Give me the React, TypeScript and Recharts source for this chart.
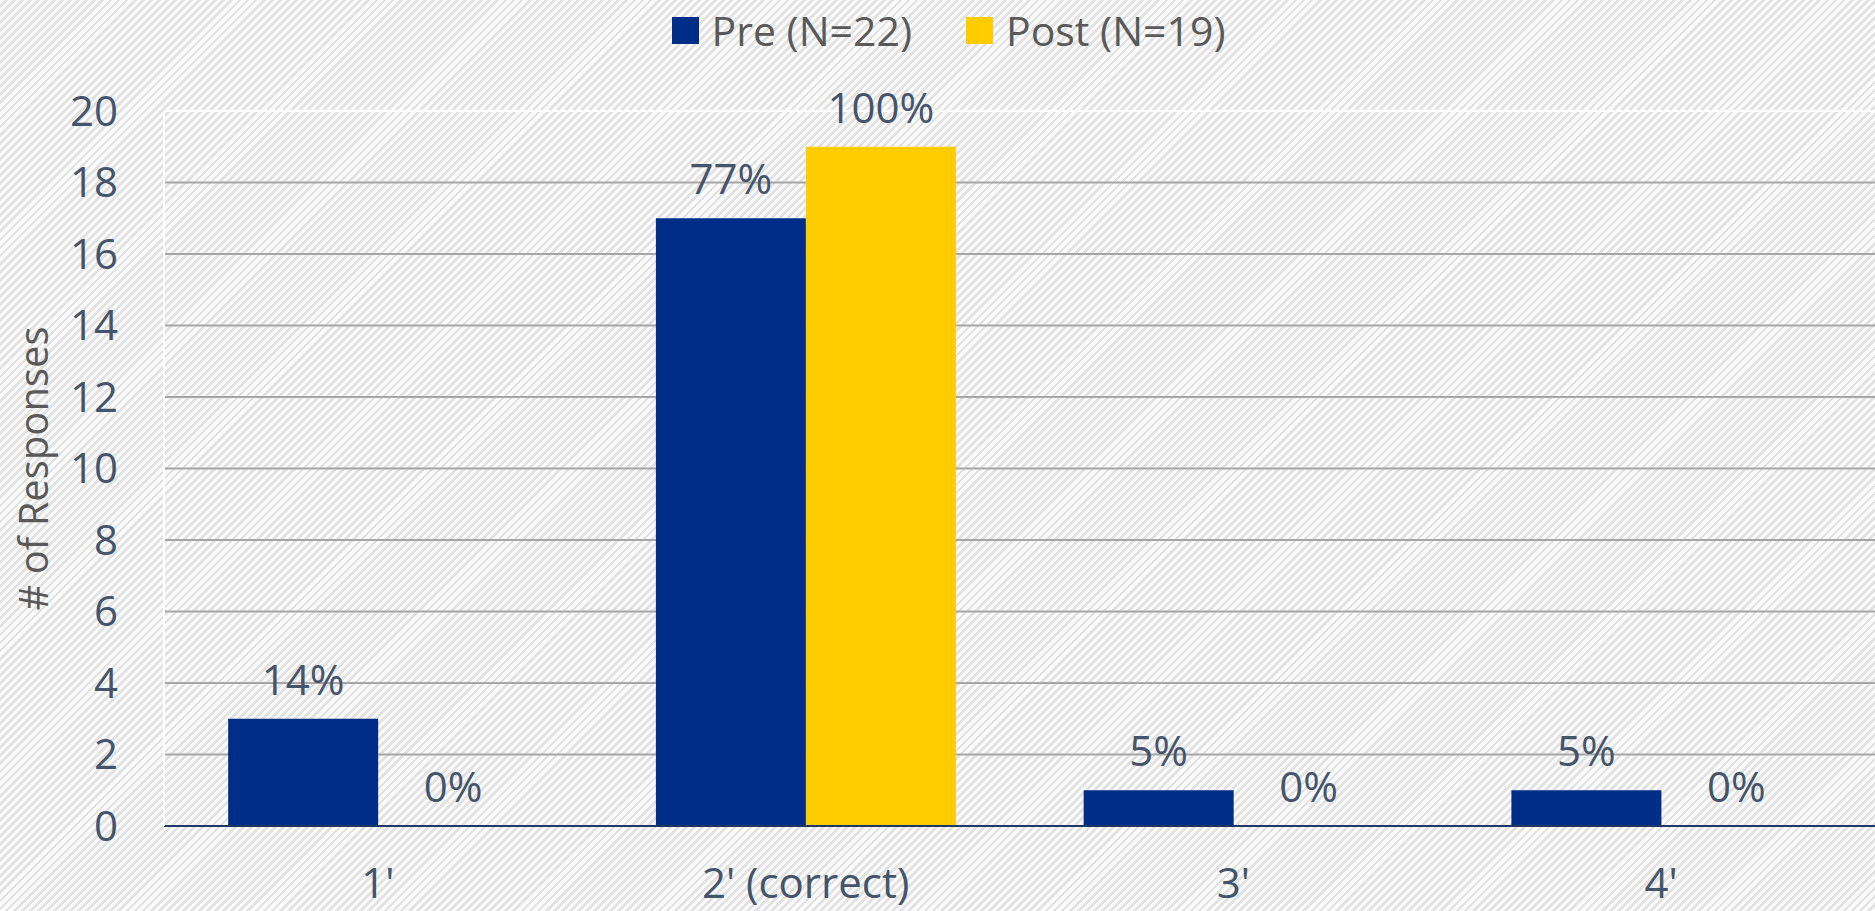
import { BarChart, Bar, XAxis, YAxis, CartesianGrid, Legend, LabelList, ReferenceLine } from 'recharts';

const categories = ["1'", "2' (correct)", "3'", "4'"];
const preCounts = [3, 17, 1, 1];
const postCounts = [0, 19, 0, 0];
const preLabels = ['14%', '77%', '5%', '5%'];
const postLabels = ['0%', '100%', '0%', '0%'];
const yTicks = [0, 2, 4, 6, 8, 10, 12, 14, 16, 18, 20];
const seriesNames = ['Pre (N=22)', 'Post (N=19)'];
const seriesColors = ['#002D87', '#FFCC00'];

const data = categories.map((name, i) => ({
  name,
  pre: preCounts[i],
  post: postCounts[i],
  preLabel: preLabels[i],
  postLabel: postLabels[i],
}));

const FONT = "'Open Sans', sans-serif";
const TEXT = '#44546A';

function LegendBox() {
  return (
    <div style={{ height: 60, display: 'flex', justifyContent: 'center', alignItems: 'flex-start', paddingLeft: 22 }}>
      {seriesNames.map((n, i) => (
        <div key={n} style={{ display: 'flex', alignItems: 'center', marginRight: i === 0 ? 54 : 0, marginTop: 4 }}>
          <span style={{ display: 'inline-block', width: 27, height: 27, background: seriesColors[i], marginRight: 13 }} />
          <span style={{ color: '#595959', fontSize: 41, fontFamily: FONT, lineHeight: '52px' }}>{n}</span>
        </div>
      ))}
    </div>
  );
}

export default function App() {
  return (
    <div
      style={{
        position: 'absolute', left: 0, top: 0, width: 1875, height: 911,
        background: 'repeating-linear-gradient(135deg, #fbfbfb 0px, #fbfbfb 3px, #e2e2e2 3px, #e2e2e2 5.7px)',
        fontFamily: FONT,
      }}
    >
      <BarChart
        width={1875} height={911} data={data}
        margin={{ top: 51, right: 0, left: 0, bottom: 0 }}
        barCategoryGap="15%" barGap={0}
      >
        <CartesianGrid vertical={false} stroke="#a6a6a6" strokeWidth={2} horizontalValues={[2, 4, 6, 8, 10, 12, 14, 16, 18]} />
        <ReferenceLine y={20} stroke="#ffffff" strokeWidth={2} />
        <XAxis
          dataKey="name" height={85}
          axisLine={{ stroke: '#1f3864', strokeWidth: 2 }} tickLine={false}
          tick={{ fontSize: 42, fill: TEXT, fontFamily: FONT }}
          tickSize={0} tickMargin={42}
        />
        <YAxis
          domain={[0, 20]} ticks={yTicks} width={164}
          axisLine={{ stroke: '#ffffff', strokeWidth: 2 }} tickLine={false}
          tick={{ fontSize: 42, fill: TEXT, fontFamily: FONT }}
          tickSize={0} tickMargin={46}
          label={{ value: '# of Responses', angle: -90, position: 'insideLeft', offset: 34, style: { fontSize: 40, fill: '#595959', fontFamily: FONT, textAnchor: 'middle' } }}
        />
        <Legend verticalAlign="top" content={<LegendBox />} wrapperStyle={{ top: 0, left: 0, width: 1875 }} />
        <Bar dataKey="pre" name={seriesNames[0]} fill={seriesColors[0]} minPointSize={0.01} isAnimationActive={false}>
          <LabelList dataKey="preLabel" position="top" offset={24} style={{ fontSize: 42, fill: TEXT, fontFamily: FONT }} />
        </Bar>
        <Bar dataKey="post" name={seriesNames[1]} fill={seriesColors[1]} minPointSize={0.01} isAnimationActive={false}>
          <LabelList dataKey="postLabel" position="top" offset={24} style={{ fontSize: 42, fill: TEXT, fontFamily: FONT }} />
        </Bar>
      </BarChart>
    </div>
  );
}
